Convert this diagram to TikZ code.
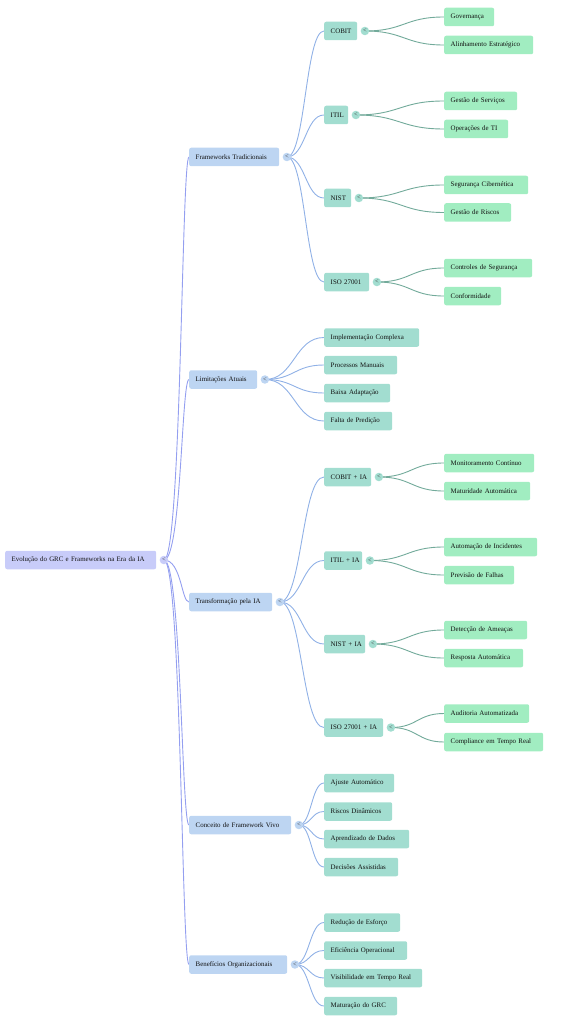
\documentclass[tikz,border=0pt]{standalone}
\usepackage{fontspec}
\setmainfont{Liberation Serif}
\usetikzlibrary{backgrounds,calc}
\definecolor{rootfill}{HTML}{C8CCF9}
\definecolor{lonefill}{HTML}{BDD5F2}
\definecolor{ltwofill}{HTML}{A2DDD0}
\definecolor{lthreefill}{HTML}{A1EDC1}
\definecolor{rootedge}{HTML}{949FF0}
\definecolor{loneedge}{HTML}{90B1E6}
\definecolor{ltwoedge}{HTML}{72AA9A}
\definecolor{txt}{HTML}{111111}
\tikzset{
  box/.style={anchor=west, rounded corners=2pt, inner xsep=6.5pt, inner ysep=0pt,
    minimum height=18.5pt, text=txt, font=\fontsize{6.9}{8}\selectfont, align=left,
    execute at begin node={\hbox\bgroup}, execute at end node={\egroup}},
  rootbox/.style={box, fill=rootfill},
  lonebox/.style={box, fill=lonefill},
  ltwobox/.style={box, fill=ltwofill},
  lthreebox/.style={box, fill=lthreefill},
  knob/.style={circle, inner sep=0pt, minimum size=8.5pt, text=black!75,
    font=\fontsize{6.5}{7}\selectfont, fill=#1},
  edge/.style={line width=0.9pt, draw=#1},
}
\newcommand{\myconn}[4]{%
  \draw[edge=#4] let \p1=(#1.center), \p2=(#2.west) in
    (\p1) .. controls ({\x1+#3*(\x2-\x1)},\y1) and ({\x1+#3*(\x2-\x1)},\y2) .. (\p2);}
\newcommand{\myknob}[2]{\node[knob=#2] (#1k) at ($(#1.east)+(7.5pt,0)$) {<};}
\begin{document}
\begin{tikzpicture}[x=1pt,y=-1pt]
\useasboundingbox (0,0) rectangle (560,1024);
% root
\node[rootbox,text width=138] (r) at (5,560) {Evolução do GRC e Frameworks na Era da IA};
\myknob{r}{rootfill}
% level 1
\node[lonebox,text width=77] (a) at (189,157) {Frameworks Tradicionais};
\node[lonebox,text width=55] (b) at (189,379.5) {Limitações Atuais};
\node[lonebox,text width=70] (c) at (189,602) {Transformação pela IA};
\node[lonebox,text width=89] (d) at (189,825) {Conceito de Framework Vivo};
\node[lonebox,text width=85] (e) at (189,964.5) {Benefícios Organizacionais};
\foreach \nn in {a,b,c,d,e} {\myknob{\nn}{lonefill}}
% level 2 under a
\node[ltwobox,text width=20] (a1) at (324,31) {COBIT};
\node[ltwobox,text width=11] (a2) at (324,115) {ITIL};
\node[ltwobox,text width=14] (a3) at (324,198) {NIST};
\node[ltwobox,text width=32] (a4) at (324,282) {ISO 27001};
% level 3 under a
\node[lthreebox,text width=37] (a11) at (444,17) {Governança};
\node[lthreebox,text width=76] (a12) at (444,45) {Alinhamento Estratégico};
\node[lthreebox,text width=60] (a21) at (444,101) {Gestão de Serviços};
\node[lthreebox,text width=51] (a22) at (444,129) {Operações de TI};
\node[lthreebox,text width=71] (a31) at (444,185) {Segurança Cibernética};
\node[lthreebox,text width=54] (a32) at (444,212.5) {Gestão de Riscos};
\node[lthreebox,text width=75] (a41) at (444,268) {Controles de Segurança};
\node[lthreebox,text width=44] (a42) at (444,296) {Conformidade};
% children of b
\node[ltwobox,text width=82] (b1) at (324,337.5) {Implementação Complexa};
\node[ltwobox,text width=60] (b2) at (324,365) {Processos Manuais};
\node[ltwobox,text width=53] (b3) at (324,393) {Baixa Adaptação};
\node[ltwobox,text width=55] (b4) at (324,421) {Falta de Predição};
% level 2 under c
\node[ltwobox,text width=34] (c1) at (324,477) {COBIT + IA};
\node[ltwobox,text width=25] (c2) at (324,560.5) {ITIL + IA};
\node[ltwobox,text width=28] (c3) at (324,644) {NIST + IA};
\node[ltwobox,text width=46] (c4) at (324,727.5) {ISO 27001 + IA};
% level 3 under c
\node[lthreebox,text width=77] (c11) at (444,463) {Monitoramento Contínuo};
\node[lthreebox,text width=73] (c12) at (444,491) {Maturidade Automática};
\node[lthreebox,text width=80] (c21) at (444,547) {Automação de Incidentes};
\node[lthreebox,text width=57] (c22) at (444,575) {Previsão de Falhas};
\node[lthreebox,text width=70] (c31) at (444,630) {Detecção de Ameaças};
\node[lthreebox,text width=66] (c32) at (444,658) {Resposta Automática};
\node[lthreebox,text width=72] (c41) at (444,713.5) {Auditoria Automatizada};
\node[lthreebox,text width=86] (c42) at (444,742) {Compliance em Tempo Real};
% children of d
\node[ltwobox,text width=57] (d1) at (324,783) {Ajuste Automático};
\node[ltwobox,text width=55] (d2) at (324,811.5) {Riscos Dinâmicos};
\node[ltwobox,text width=72] (d3) at (324,839) {Aprendizado de Dados};
\node[ltwobox,text width=61] (d4) at (324,867) {Decisões Assistidas};
% children of e
\node[ltwobox,text width=63] (e1) at (324,922.5) {Redução de Esforço};
\node[ltwobox,text width=70] (e2) at (324,950.5) {Eficiência Operacional};
\node[ltwobox,text width=85] (e3) at (324,978) {Visibilidade em Tempo Real};
\node[ltwobox,text width=60] (e4) at (324,1006) {Maturação do GRC};
\foreach \nn in {a1,a2,a3,a4,c1,c2,c3,c4} {\myknob{\nn}{ltwofill}}
% connectors
\begin{scope}[on background layer]
\foreach \nn in {a,b,c,d,e} {\myconn{rk}{\nn}{0.7}{rootedge}}
\foreach \pp in {a,b,c,d,e} {\foreach \qq in {1,2,3,4} {\myconn{\pp k}{\pp\qq}{0.5}{loneedge}}}
\foreach \pp in {a1,a2,a3,a4,c1,c2,c3,c4} {\foreach \qq in {1,2} {\myconn{\pp k}{\pp\qq}{0.5}{ltwoedge}}}
\end{scope}
\end{tikzpicture}
\end{document}
